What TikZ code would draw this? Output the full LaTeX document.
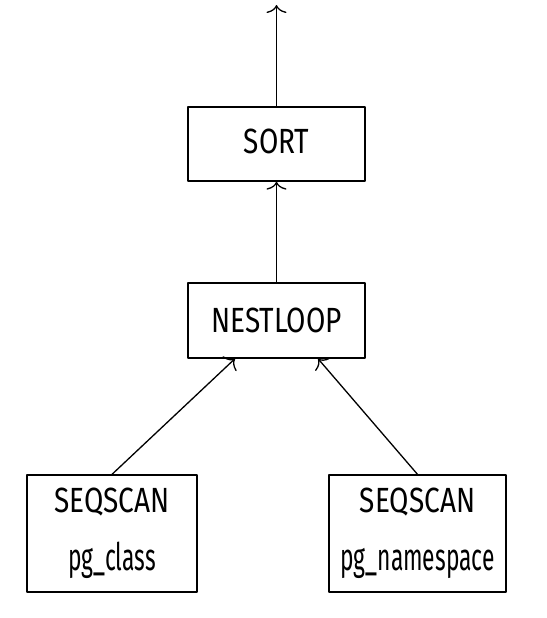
\documentclass[tikz,border=0pt]{standalone}
\usepackage{fontspec}
\setmainfont[FakeStretch=0.8]{Fira Sans}
\newfontfamily\relfont[FakeStretch=0.6]{Fira Sans}
\newcommand{\relname}[1]{{\fontsize{38}{58}\selectfont\relfont #1}}
\usetikzlibrary{arrows.meta}

\begin{document}
\begin{tikzpicture}[x=1pt, y=-1pt, line cap=round, line join=round,
  box/.style={draw, line width=1.3pt, inner sep=0pt, font=\fontsize{35}{58}\selectfont, align=center},
  arr/.style={-{To[length=8pt,width=20pt]}, line width=1.3pt}]

\useasboundingbox (0,0) rectangle (546,618);

% nodi del piano
\node[box, minimum width=177pt, minimum height=74pt, text depth=5pt] (sort) at (276.5,144) {SORT};
\node[box, minimum width=177pt, minimum height=75pt] (nest) at (276.5,320.5) {NESTLOOP};
\node[box, minimum width=170pt, minimum height=117pt] (scanA) at (112,533.5) {SEQSCAN\\\relname{pg\_class}};
\node[box, minimum width=177pt, minimum height=117pt] (scanB) at (417.5,533.5) {SEQSCAN\\\relname{pg\_namespace}};

% uscita in alto
\coordinate (out) at (276.5,5);

% frecce
\draw[arr] (sort.north) -- (out);
\draw[arr] (nest.north) -- (sort.south);
\draw[arr] (scanA.north) -- ([xshift=-41.5pt]nest.south);
\draw[arr] (scanB.north) -- ([xshift=41.5pt]nest.south);

\end{tikzpicture}
\end{document}
